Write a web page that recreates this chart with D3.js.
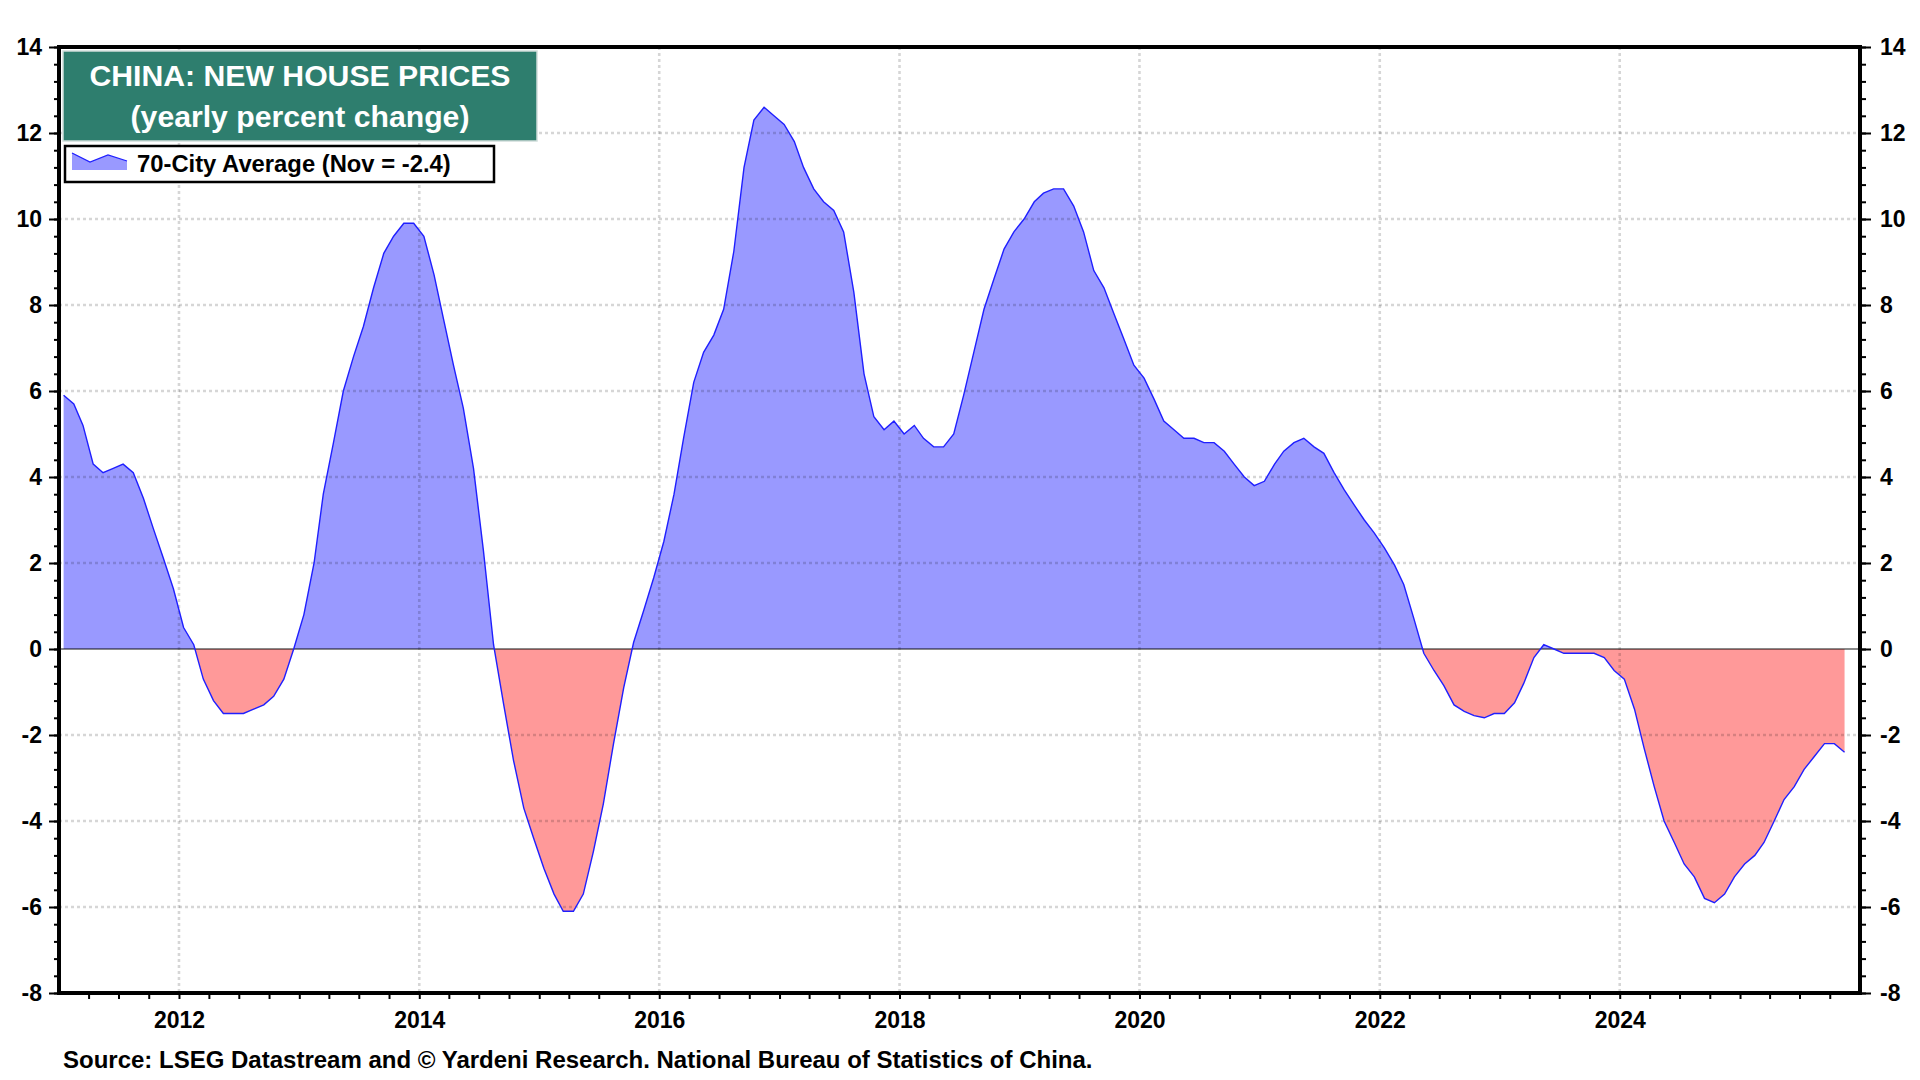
<!DOCTYPE html>
<html><head><meta charset="utf-8">
<script src="https://cdn.jsdelivr.net/npm/d3@7"></script>
<style>
body{margin:0;background:#fff}
svg{display:block}
text{font-family:Arial,"Liberation Sans",sans-serif;font-weight:bold}
</style>
</head><body>
<svg id="chart" width="1920" height="1080"></svg>
<script>
// ---- DATA (yearly percent change, 70-city average new house prices, monthly) ----
const startYear = 2011;
const v2011 = [5.9, 5.7, 5.2, 4.3, 4.1, 4.2, 4.3, 4.1, 3.5, 2.8, 2.1, 1.4];
const v2012 = [0.5, 0.1, -0.7, -1.2, -1.5, -1.5, -1.5, -1.4, -1.3, -1.1, -0.7, 0.0];
const v2013 = [0.8, 2.0, 3.6, 4.8, 6.0, 6.8, 7.5, 8.4, 9.2, 9.6, 9.9, 9.9];
const v2014 = [9.6, 8.7, 7.7, 6.6, 5.6, 4.2, 2.3, 0.1, -1.3, -2.6, -3.7, -4.4];
const v2015 = [-5.1, -5.7, -6.1, -6.1, -5.7, -4.7, -3.6, -2.2, -0.9, 0.15, 0.9, 1.65];
const v2016 = [2.5, 3.6, 4.9, 6.2, 6.9, 7.3, 7.9, 9.25, 11.2, 12.3, 12.6, 12.4];
const v2017 = [12.2, 11.8, 11.2, 10.7, 10.4, 10.2, 9.7, 8.3, 6.4, 5.4, 5.1, 5.3];
const v2018 = [5.0, 5.2, 4.9, 4.7, 4.7, 5.0, 5.9, 6.9, 7.9, 8.6, 9.3, 9.7];
const v2019 = [10.0, 10.4, 10.6, 10.7, 10.7, 10.3, 9.7, 8.8, 8.4, 7.8, 7.2, 6.6];
const v2020 = [6.3, 5.8, 5.3, 5.1, 4.9, 4.9, 4.8, 4.8, 4.6, 4.3, 4.0, 3.8];
const v2021 = [3.9, 4.3, 4.6, 4.8, 4.9, 4.7, 4.55, 4.1, 3.7, 3.35, 3.0, 2.7];
const v2022 = [2.35, 1.95, 1.5, 0.7, -0.1, -0.5, -0.85, -1.3, -1.45, -1.55, -1.6, -1.5];
const v2023 = [-1.5, -1.25, -0.8, -0.2, 0.1, 0.0, -0.1, -0.1, -0.1, -0.1, -0.2, -0.5];
const v2024 = [-0.7, -1.4, -2.3, -3.2, -4.0, -4.5, -5.0, -5.3, -5.8, -5.9, -5.7, -5.3];
const v2025 = [-5.0, -4.8, -4.5, -4.0, -3.5, -3.2, -2.8, -2.5, -2.2, -2.2, -2.4];
const yearly = [v2011, v2012, v2013, v2014, v2015, v2016, v2017, v2018, v2019, v2020, v2021, v2022, v2023, v2024, v2025];

const yMajorTicks = [-8, -6, -4, -2, 0, 2, 4, 6, 8, 10, 12, 14];
const xLabelYears = [2012, 2014, 2016, 2018, 2020, 2022, 2024];
const titleLines = ["CHINA: NEW HOUSE PRICES", "(yearly percent change)"];
const legendLabel = "70-City Average (Nov = -2.4)";
const sourceText = "Source: LSEG Datastream and \u00A9 Yardeni Research. National Bureau of Statistics of China.";

// ---- build series ----
const series = [];
yearly.forEach((arr, yi) => arr.forEach((v, m) => series.push({date: new Date(startYear + yi, m, 15), value: v})));

// ---- layout ----
const L = 59, R = 1860, T = 47, B = 993;
const svg = d3.select("#chart");
svg.append("rect").attr("width", 1920).attr("height", 1080).attr("fill", "#fff");

const x = d3.scaleTime().domain([new Date(2011, 0, 1), new Date(2026, 0, 1)]).range([L, R]);
const y = d3.scaleLinear().domain([-8, 14]).range([B, T]);
const y0 = y(0);

const defs = svg.append("defs");
defs.append("clipPath").attr("id", "clipPos").append("rect")
  .attr("x", L).attr("y", T).attr("width", R - L).attr("height", y0 - T);
defs.append("clipPath").attr("id", "clipNeg").append("rect")
  .attr("x", L).attr("y", y0).attr("width", R - L).attr("height", B - y0);

const area = d3.area().x(d => x(d.date)).y0(y0).y1(d => y(d.value));
svg.append("path").datum(series).attr("d", area).attr("fill", "#9999FF").attr("clip-path", "url(#clipPos)");
svg.append("path").datum(series).attr("d", area).attr("fill", "#FF9999").attr("clip-path", "url(#clipNeg)");

// ---- grid ----
const grid = svg.append("g").attr("stroke", "rgba(0,0,0,0.16)").attr("stroke-width", 2.6).attr("stroke-dasharray", "3,3");
yMajorTicks.filter(t => t !== 0 && t !== 14 && t !== -8).forEach(t => {
  grid.append("line").attr("x1", L).attr("x2", R).attr("y1", y(t)).attr("y2", y(t));
});
xLabelYears.forEach(yr => {
  const xx = x(new Date(yr, 0, 1));
  grid.append("line").attr("x1", xx).attr("x2", xx).attr("y1", T).attr("y2", B);
});

// zero line
svg.append("line").attr("x1", L).attr("x2", R).attr("y1", y0).attr("y2", y0)
  .attr("stroke", "rgba(0,0,0,0.62)").attr("stroke-width", 1.6);

// series line
svg.append("path").datum(series)
  .attr("d", d3.line().x(d => x(d.date)).y(d => y(d.value)))
  .attr("fill", "none").attr("stroke", "#1f1fff").attr("stroke-width", 1.4);

// ---- axes ----
const minorY = d3.range(-8, 14.001, 0.4).map(v => +v.toFixed(1));
const leftAxis = d3.axisLeft(y).tickValues(minorY).tickSize(5).tickFormat("");
const leftMajor = d3.axisLeft(y).tickValues(yMajorTicks).tickSize(10).tickPadding(7).tickFormat(d3.format("d"));
const rightAxis = d3.axisRight(y).tickValues(minorY).tickSize(6).tickFormat("");
const rightMajor = d3.axisRight(y).tickValues(yMajorTicks).tickSize(11).tickPadding(9).tickFormat(d3.format("d"));

function styleAxis(g) {
  g.select(".domain").remove();
  g.selectAll(".tick line").attr("stroke", "#000").attr("stroke-width", 2);
  g.selectAll(".tick text").attr("fill", "#000").style("font-size", "23px").style("font-weight", "bold")
    .style("font-family", "Arial, 'Liberation Sans', sans-serif");
}
svg.append("g").attr("transform", `translate(${L},0)`).call(leftAxis).call(styleAxis);
svg.append("g").attr("transform", `translate(${L},0)`).call(leftMajor).call(styleAxis);
svg.append("g").attr("transform", `translate(${R},0)`).call(rightAxis).call(styleAxis);
svg.append("g").attr("transform", `translate(${R},0)`).call(rightMajor).call(styleAxis);
svg.selectAll(".tick text").text(function(){ return this.textContent.replace("\u2212", "-"); });

const quarterTicks = d3.timeMonth.every(3).range(new Date(2011, 3, 1), new Date(2026, 0, 1));
const bottomAxis = d3.axisBottom(x).tickValues(quarterTicks).tickSize(6).tickFormat("");
svg.append("g").attr("transform", `translate(0,${B})`).call(bottomAxis).call(styleAxis);
const bottomLabels = d3.axisBottom(x).tickValues(xLabelYears.map(yr => new Date(yr, 0, 1))).tickSize(0).tickPadding(19).tickFormat(d3.timeFormat("%Y"));
svg.append("g").attr("transform", `translate(0,${B})`).call(bottomLabels).call(styleAxis);

// frame
const frame = svg.append("g").attr("stroke", "#000").attr("stroke-width", 4).attr("fill", "none");
frame.append("rect").attr("x", L).attr("y", T).attr("width", R - L).attr("height", B - T);

// ---- title box ----
svg.append("rect").attr("x", 63).attr("y", 51).attr("width", 474).attr("height", 90)
  .attr("fill", "#2E7E6E").attr("stroke", "#d0ddda").attr("stroke-width", 1.5);
svg.append("text").attr("x", 300).attr("y", 86).attr("text-anchor", "middle")
  .attr("fill", "#fff").style("font-size", "30.2px").text(titleLines[0]);
svg.append("text").attr("x", 300).attr("y", 127).attr("text-anchor", "middle")
  .attr("fill", "#fff").style("font-size", "30.2px").text(titleLines[1]);

// ---- legend ----
svg.append("rect").attr("x", 65).attr("y", 146).attr("width", 429).attr("height", 36)
  .attr("fill", "#fff").attr("stroke", "#000").attr("stroke-width", 2.5);
const legPts = [[72, 153], [90, 162], [108, 155], [127, 161]];
const legBottom = 170;
svg.append("path")
  .attr("d", d3.line()([...legPts, [127, legBottom], [72, legBottom]]) + "Z")
  .attr("fill", "#9999FF");
svg.append("path").attr("d", d3.line()(legPts)).attr("fill", "none").attr("stroke", "#1f1fff").attr("stroke-width", 1.3);
svg.append("text").attr("x", 137).attr("y", 172).attr("fill", "#000").style("font-size", "23.8px").text(legendLabel);

// ---- source ----
svg.append("text").attr("x", 63).attr("y", 1068).attr("fill", "#000").style("font-size", "24px").text(sourceText);
</script>
</body></html>
